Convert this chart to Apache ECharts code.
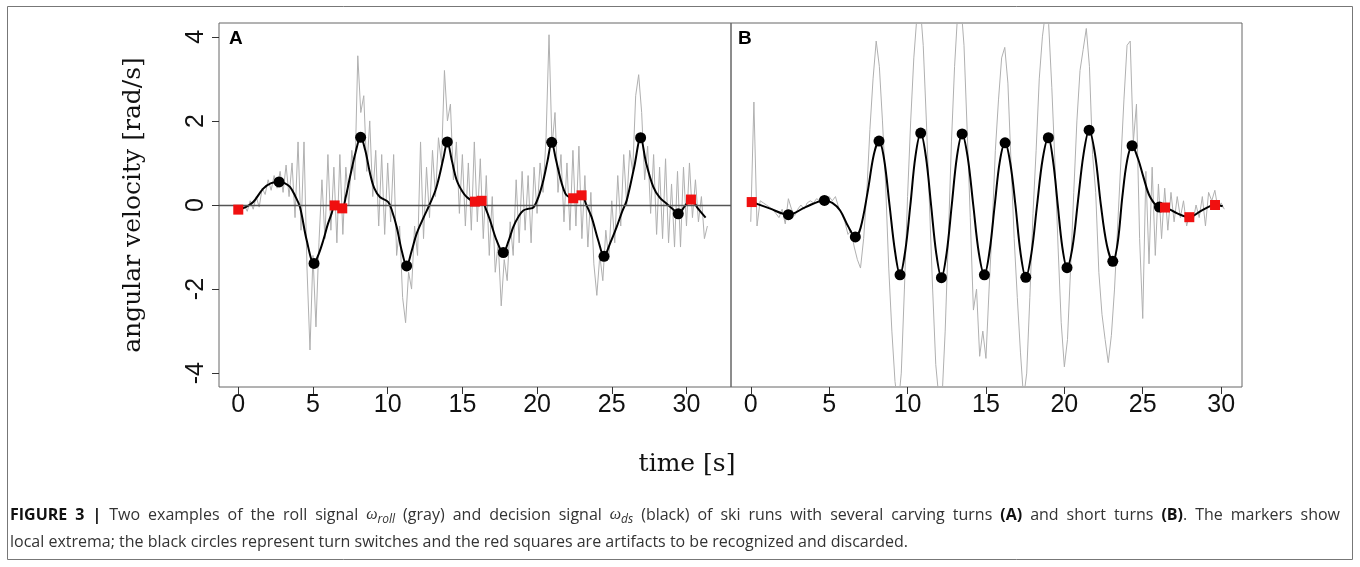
<!DOCTYPE html>
<html>
<head>
<meta charset="utf-8">
<script src="https://cdn.jsdelivr.net/npm/echarts@6/dist/echarts.min.js"></script>
<style>
html,body{margin:0;padding:0;background:#fff;}
#chart{width:1360px;height:567px;}
</style>
</head>
<body>
<div id="chart"></div>
<script>
// ---------- DATA ----------
const xTickValues = [0, 5, 10, 15, 20, 25, 30];
const yTickValues = [-4, -2, 0, 2, 4];

// Panel A: roll signal (gray), sampled every 0.2 s starting at 0 s
const rollA_start = 0, rollA_step = 0.2;
const rollA = [
 -0.1,-0.2,0.0,-0.15,0.1,-0.1,0.2,-0.05,0.4,0.25,
 0.6,0.35,0.7,0.4,0.8,0.3,0.95,0.2,1.0,-0.3,
 1.5,-0.6,1.5,-1.5,-3.45,-1.2,-2.9,-0.9,0.6,-0.8,
 1.2,-0.6,0.9,-0.9,1.2,-0.7,0.9,0.0,1.3,0.6,
 3.55,2.2,2.6,0.8,2.0,0.2,1.3,-0.5,1.2,-0.7,
 1.0,-0.4,1.2,-1.2,-0.5,-2.2,-2.8,-1.6,-2.0,-0.5,
 -1.2,1.5,-0.8,0.9,-0.3,1.3,0.2,1.6,1.0,3.2,
 2.0,2.4,0.6,1.5,-0.2,1.2,-0.5,1.0,-0.6,1.5,
 -0.4,1.1,-0.8,0.7,-1.2,0.2,-1.6,-0.9,-2.4,-1.3,
 -1.8,-0.4,-1.2,0.6,-0.9,0.8,-0.6,0.7,-0.9,0.9,
 -0.2,1.0,0.3,1.6,4.05,1.4,2.2,0.3,1.2,-0.4,
 1.0,-0.6,1.3,-0.5,1.4,-0.8,0.7,-1.0,0.3,-1.4,
 -2.15,-1.2,-1.8,-0.6,-1.3,0.1,-0.9,0.7,-0.5,1.2,
 0.0,1.3,0.8,2.6,3.1,2.2,0.6,1.4,-0.2,1.2,
 -0.7,0.9,-0.8,1.1,-0.9,0.5,-1.0,0.8,-1.0,0.9,
 -0.5,1.0,-0.3,0.6,-0.4,0.2,-0.8,-0.5
];

// Panel A: decision signal (black)
const dsA_t = [0,0.5,1.0,1.67,2.2,2.73,3.1,3.46,3.8,4.13,4.58,5.07,5.4,5.69,6.0,6.25,6.45,6.7,6.96,7.2,7.48,7.85,8.19,8.5,8.82,9.1,9.48,10.04,10.3,10.6,10.95,11.27,11.6,11.94,12.4,12.83,13.2,13.5,13.75,13.99,14.3,14.62,15.0,15.29,15.84,16.29,16.6,16.85,17.3,17.74,18.1,18.41,18.8,19.08,19.4,19.75,20.1,20.42,20.7,20.98,21.25,21.53,21.75,21.98,22.42,22.98,23.3,23.65,24.1,24.48,24.9,25.33,25.7,26.0,26.5,26.93,27.3,27.78,28.2,28.67,29.1,29.45,29.9,30.3,30.8,31.28];
const dsA_v = [-0.11,-0.05,0.07,0.39,0.52,0.55,0.52,0.43,0.22,-0.05,-0.84,-1.39,-1.15,-0.84,-0.45,-0.2,-0.01,-0.03,-0.08,0.2,0.67,1.25,1.61,1.3,0.75,0.4,0.19,0.07,-0.15,-0.52,-1.1,-1.45,-1.1,-0.68,-0.3,0.03,0.35,0.75,1.15,1.5,1.05,0.59,0.32,0.19,0.08,0.1,-0.12,-0.36,-0.85,-1.13,-0.85,-0.52,-0.25,-0.13,-0.09,-0.06,0.2,0.59,1.05,1.49,1.1,0.67,0.4,0.23,0.16,0.23,0.0,-0.29,-0.85,-1.22,-0.9,-0.52,-0.15,0.11,0.9,1.6,1.0,0.43,0.18,0.03,-0.1,-0.21,-0.02,0.13,-0.1,-0.3];

// Panel A markers
const switchesA_t = [2.73,5.07,8.19,11.27,13.99,17.74,20.98,24.48,26.93,29.45];
const switchesA_v = [0.55,-1.39,1.61,-1.45,1.50,-1.13,1.49,-1.22,1.60,-0.21];
const artifactsA_t = [0,6.45,6.96,15.84,16.29,22.42,22.98,30.30];
const artifactsA_v = [-0.11,-0.01,-0.08,0.08,0.10,0.16,0.23,0.13];

// Panel B: roll signal (gray), sampled every 0.2 s starting at 0 s
const rollB_start = 0, rollB_step = 0.2;
const rollB = [
 -0.4,2.45,-0.5,0.1,0.05,0.0,-0.05,-0.1,-0.2,-0.3,
 -0.1,-0.45,0.15,-0.1,-0.25,-0.1,0.0,-0.1,0.05,0.1,
 0.05,0.15,0.1,0.1,0.05,0.2,0.1,0.2,-0.05,-0.2,
 -0.4,-0.7,-0.6,-1.0,-1.3,-1.5,-0.8,0.3,1.8,3.0,
 3.9,3.3,2.0,0.5,-1.5,-3.0,-4.2,-4.8,-4.0,-2.0,
 0.2,2.0,3.5,4.5,4.8,3.8,2.0,0.0,-2.0,-3.8,
 -4.6,-4.6,-3.0,-0.8,1.5,3.3,4.6,4.8,3.8,1.8,
 -0.3,-2.5,-2.0,-3.6,-3.0,-3.65,-2.0,-0.5,1.3,2.5,
 3.5,3.75,2.9,1.0,-0.8,-2.2,-3.5,-4.6,-4.0,-2.2,
 -0.2,1.3,3.0,4.0,4.6,4.3,2.8,1.0,-1.0,-2.8,
 -3.85,-3.2,-1.5,0.3,2.0,3.2,3.7,4.2,3.3,1.2,
 0.3,-1.6,-2.6,-3.2,-3.75,-3.1,-2.0,-0.5,1.0,2.5,
 3.8,3.9,1.5,2.4,-0.8,-2.7,0.8,-1.4,0.9,-1.2,
 0.5,-0.8,0.4,-0.6,0.3,-0.4,0.2,-0.3,0.1,-0.5,
 -0.2,-0.4,0.0,-0.3,0.2,-0.5,0.3,0.1,0.35,-0.1,
 0.05,-0.1
];

// Panel B: decision signal (black)
const dsB_t = [0.06,1.2,2.4,3.5,4.7,5.2,5.7,6.2,6.67,7.0,7.45,7.85,8.18,8.5,8.85,9.2,9.52,9.85,10.18,10.5,10.84,11.17,11.5,11.83,12.16,12.49,12.82,13.15,13.48,13.83,14.19,14.55,14.9,15.23,15.56,15.89,16.22,16.55,16.88,17.21,17.54,17.9,18.26,18.62,18.98,19.28,19.58,19.87,20.17,20.52,20.87,21.22,21.58,21.96,22.33,22.71,23.09,23.4,23.7,24.0,24.32,24.7,25.04,25.47,26.06,26.42,27.2,27.97,28.8,29.61,30.1];
const dsB_v = [0.07,-0.08,-0.23,-0.05,0.11,0.05,-0.13,-0.5,-0.76,-0.55,0.3,1.2,1.52,1.1,0.0,-1.1,-1.66,-1.1,0.0,1.15,1.71,1.15,0.0,-1.15,-1.73,-1.15,0.0,1.15,1.69,1.15,0.0,-1.15,-1.66,-1.1,0.0,1.05,1.48,1.0,0.0,-1.15,-1.72,-1.15,0.0,1.1,1.6,1.05,0.0,-1.0,-1.49,-1.0,0.1,1.2,1.78,1.2,0.0,-0.95,-1.34,-0.9,0.2,1.05,1.41,1.1,0.67,0.19,-0.05,-0.06,-0.2,-0.29,-0.12,0.0,-0.03];

// Panel B markers
const switchesB_t = [2.40,4.70,6.67,8.18,9.52,10.84,12.16,13.48,14.9,16.22,17.54,18.98,20.17,21.58,23.09,24.32,26.06];
const switchesB_v = [-0.23,0.11,-0.76,1.52,-1.66,1.71,-1.73,1.69,-1.66,1.48,-1.72,1.60,-1.49,1.78,-1.34,1.41,-0.05];
const artifactsB_t = [0.06,26.42,27.97,29.61];
const artifactsB_v = [0.07,-0.06,-0.29,0.0];

// Caption text
const captionLine1 = '{b|FIGURE} {b|3} {b||} Two examples of the roll signal {i|ω}{s|roll} (gray) and decision signal {i|ω}{s|ds} (black) of ski runs with several carving turns {b|(A)} and short turns {b|(B)}. The markers show';
const captionLine2 = 'local extrema; the black circles represent turn switches and the red squares are artifacts to be recognized and discarded.';

// ---------- BUILD ----------
const pairs = (ts, vs) => ts.map((t, i) => [t, vs[i]]);
const sampled = (start, step, vs) => vs.map((v, i) => [+(start + i * step).toFixed(3), v]);

const tickFont = 'Liberation Sans, Arial, sans-serif';
function xAxisFor(idx, min, max) {
  return {
    gridIndex: idx, type: 'value', min: min, max: max,
    splitLine: {show: false},
    axisLine: {show: false, onZero: false},
    axisTick: {show: true, inside: false, length: 7, customValues: xTickValues, lineStyle: {color: '#333', width: 1}},
    axisLabel: {show: true, customValues: xTickValues, fontSize: 25, color: '#111', fontFamily: tickFont, margin: 6}
  };
}

// caption styles
const capFamily = "'Open Sans', 'Liberation Sans', sans-serif";
const capFonts = {
  n: '16px ' + capFamily,
  b: 'bold 16px ' + capFamily,
  i: 'italic 16px Liberation Serif, serif',
  s: 'italic 12px ' + capFamily
};
const capRich = {
  b: {fontWeight: 'bold', fontSize: 16, fontFamily: capFamily, fill: '#111', lineHeight: 22},
  i: {fontStyle: 'italic', fontSize: 16, fontFamily: 'Liberation Serif', fill: '#333', lineHeight: 22},
  s: {fontStyle: 'italic', fontSize: 12, fontFamily: capFamily, fill: '#333', lineHeight: 12, padding: [10, 0, 0, 0]}
};
const measureCtx = document.createElement('canvas').getContext('2d');
function wordWidth(word) {
  const re = /\{(\w)\|([^}]*)\}|([^{]+)/g;
  let m, w = 0;
  while ((m = re.exec(word)) !== null) {
    const key = m[1] || 'n';
    const txt = m[1] ? m[2] : m[3];
    measureCtx.font = capFonts[key];
    w += measureCtx.measureText(txt).width;
  }
  return w;
}
const capLeft = 10, capRight = 1340, capY1 = 515, capY2 = 542;
const words1 = captionLine1.split(' ');
const widths1 = words1.map(wordWidth);
const gap = (capRight - capLeft - widths1.reduce((a, b) => a + b, 0)) / (words1.length - 1);
const captionGraphics = [];
let cx = capLeft;
words1.forEach((w, k) => {
  captionGraphics.push({type: 'text', x: cx, y: capY1, silent: true,
    style: {text: w, font: capFonts.n, fill: '#333', verticalAlign: 'middle', lineHeight: 22, rich: capRich}});
  cx += widths1[k] + gap;
});
captionGraphics.push({type: 'text', x: capLeft, y: capY2, silent: true,
  style: {text: captionLine2, font: capFonts.n, fill: '#333', verticalAlign: 'middle', lineHeight: 22}});

const chart = echarts.init(document.getElementById('chart'), null, {renderer: 'canvas'});
const option = {
  animation: false,
  backgroundColor: '#fff',
  grid: [
    {left: 219, top: 23, width: 512, height: 364, show: true, borderColor: '#666', borderWidth: 1, backgroundColor: 'transparent'},
    {left: 731, top: 23, width: 511, height: 364, show: true, borderColor: '#666', borderWidth: 1, backgroundColor: 'transparent'}
  ],
  xAxis: [xAxisFor(0, -1.29, 32.98), xAxisFor(1, -1.26, 31.33)],
  yAxis: [
    {gridIndex: 0, type: 'value', min: -4.33, max: 4.33,
     splitLine: {show: false}, axisLine: {show: false, onZero: false},
     axisTick: {show: true, inside: false, length: 7, customValues: yTickValues, lineStyle: {color: '#333'}},
     axisLabel: {show: true, customValues: yTickValues, rotate: 90, fontSize: 25, color: '#111', fontFamily: tickFont, margin: 10}},
    {gridIndex: 1, type: 'value', min: -4.33, max: 4.33, show: false, splitLine: {show: false}, axisLine: {onZero: false}}
  ],
  series: [
    {type: 'line', xAxisIndex: 0, yAxisIndex: 0, data: sampled(rollA_start, rollA_step, rollA), z: 2,
     showSymbol: false, lineStyle: {color: '#b0b0b0', width: 1}, silent: true, clip: true,
     markLine: {silent: true, symbol: ['none', 'none'], label: {show: false},
       lineStyle: {color: '#555', width: 1.3, type: 'solid'}, data: [{yAxis: 0}]}},
    {type: 'line', xAxisIndex: 0, yAxisIndex: 0, data: pairs(dsA_t, dsA_v), z: 3,
     showSymbol: false, smooth: 0.35, lineStyle: {color: '#000', width: 2}, silent: true},
    {type: 'scatter', xAxisIndex: 0, yAxisIndex: 0, data: pairs(switchesA_t, switchesA_v), z: 5,
     symbol: 'circle', symbolSize: 11, itemStyle: {color: '#000', opacity: 1}, silent: true},
    {type: 'scatter', xAxisIndex: 0, yAxisIndex: 0, data: pairs(artifactsA_t, artifactsA_v), z: 6,
     symbol: 'rect', symbolSize: 10, itemStyle: {color: '#f01010', opacity: 1}, silent: true},

    {type: 'line', xAxisIndex: 1, yAxisIndex: 1, data: sampled(rollB_start, rollB_step, rollB), z: 2,
     showSymbol: false, lineStyle: {color: '#b0b0b0', width: 1}, silent: true, clip: true},
    {type: 'line', xAxisIndex: 1, yAxisIndex: 1, data: pairs(dsB_t, dsB_v), z: 3,
     showSymbol: false, smooth: 0.35, lineStyle: {color: '#000', width: 2}, silent: true},
    {type: 'scatter', xAxisIndex: 1, yAxisIndex: 1, data: pairs(switchesB_t, switchesB_v), z: 5,
     symbol: 'circle', symbolSize: 11, itemStyle: {color: '#000', opacity: 1}, silent: true},
    {type: 'scatter', xAxisIndex: 1, yAxisIndex: 1, data: pairs(artifactsB_t, artifactsB_v), z: 6,
     symbol: 'rect', symbolSize: 10, itemStyle: {color: '#f01010', opacity: 1}, silent: true}
  ],
  graphic: [
    {type: 'rect', shape: {x: 7.5, y: 6.5, width: 1345, height: 553}, style: {fill: 'none', stroke: '#777', lineWidth: 1}, silent: true, z: -1},
    {type: 'text', x: 229, y: 29, style: {text: 'A', font: 'bold 19px Liberation Sans, Arial, sans-serif', fill: '#000'}},
    {type: 'text', x: 738, y: 29, style: {text: 'B', font: 'bold 19px Liberation Sans, Arial, sans-serif', fill: '#000'}},
    {type: 'text', x: 133, y: 205, rotation: Math.PI / 2,
     style: {text: 'angular velocity [rad/s]', font: '25px DejaVu Serif, serif', fill: '#111', align: 'center', verticalAlign: 'middle'}},
    {type: 'text', x: 687, y: 464,
     style: {text: 'time [s]', font: '25px DejaVu Serif, serif', fill: '#111', align: 'center', verticalAlign: 'middle'}}
  ].concat(captionGraphics)
};
chart.setOption(option);
</script>
</body>
</html>
